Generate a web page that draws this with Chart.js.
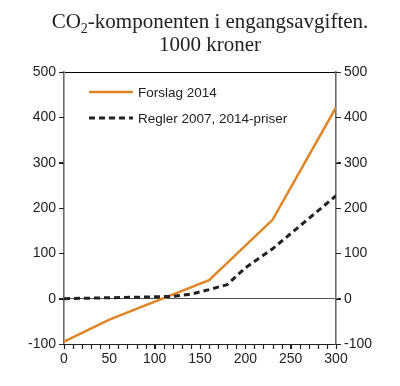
<!DOCTYPE html>
<html><head><meta charset="utf-8">
<script src="https://cdn.jsdelivr.net/npm/chart.js@4.4.0/dist/chart.umd.min.js"></script>
<style>html,body{margin:0;padding:0;background:#fff}#wrap{width:400px;height:386px}</style>
</head><body><div id="wrap"><canvas id="c" width="400" height="386"></canvas></div>
<script>
const titleParts = ['CO', '2', '-komponenten i engangsavgiften.'];
const titleLine2 = '1000 kroner';
const seriesNames = ['Forslag 2014', 'Regler 2007, 2014-priser'];
const forslagX = [0, 50, 160, 230, 300];
const forslagY = [-95, -46, 41, 174, 422];
const reglerX = [0, 50, 100, 120, 140, 160, 180, 200, 230, 300];
const reglerY = [0, 2, 4, 5, 10, 20, 31, 68, 110, 227];
const yTicks = [-100, 0, 100, 200, 300, 400, 500];
const xMinorStep = 10;

const toPts = (xs, ys) => xs.map((x, i) => ({x: x, y: ys[i]}));
const ORANGE = '#E08526', DARK = '#222222', AXIS = '#6a6a6a', TICK = '#222222';
const tickFont = {family: 'Liberation Sans, Arial, sans-serif', size: 14};

const overlay = {
  id: 'overlay',
  afterDraw(chart) {
    const ctx = chart.ctx;
    const sx = chart.scales.x, sy = chart.scales.y, sy2 = chart.scales.y2;
    const a = chart.chartArea;
    ctx.save();
    // axis tick marks
    ctx.strokeStyle = TICK;
    ctx.lineWidth = 1.2;
    ctx.beginPath();
    for (let v = sx.min; v <= sx.max; v += xMinorStep) {
      const px = Math.round(sx.getPixelForValue(v)) + 0.5;
      ctx.moveTo(px, a.bottom); ctx.lineTo(px, a.bottom + 5);
    }
    yTicks.forEach(v => {
      const py = Math.round(sy.getPixelForValue(v)) + 0.5;
      ctx.moveTo(a.left - 5, py); ctx.lineTo(a.left, py);
      const py2 = Math.round(sy2.getPixelForValue(v)) + 0.5;
      ctx.moveTo(a.right, py2); ctx.lineTo(a.right + 5, py2);
    });
    ctx.stroke();
    // title
    ctx.fillStyle = '#222';
    const big = '21px "Liberation Serif", "Times New Roman", serif';
    const small = '14px "Liberation Serif", "Times New Roman", serif';
    ctx.textBaseline = 'alphabetic';
    ctx.textAlign = 'left';
    ctx.font = big;
    const w0 = ctx.measureText(titleParts[0]).width;
    const w2 = ctx.measureText(titleParts[2]).width;
    ctx.font = small;
    const w1 = ctx.measureText(titleParts[1]).width;
    let x = 210 - (w0 + w1 + w2) / 2;
    ctx.font = big;
    ctx.fillText(titleParts[0], x, 28); x += w0;
    ctx.font = small;
    ctx.fillText(titleParts[1], x, 33); x += w1;
    ctx.font = big;
    ctx.fillText(titleParts[2], x, 28);
    ctx.textAlign = 'center';
    ctx.fillText(titleLine2, 210, 51);
    // legend
    const ds = chart.data.datasets;
    const rows = [92, 118];
    ctx.font = '13.5px "Liberation Sans", Arial, sans-serif';
    ctx.textAlign = 'left';
    ctx.textBaseline = 'middle';
    ds.forEach((d, i) => {
      ctx.beginPath();
      ctx.strokeStyle = d.borderColor;
      ctx.lineWidth = d.borderWidth;
      ctx.setLineDash(d.borderDash || []);
      ctx.moveTo(89, rows[i]);
      ctx.lineTo(133, rows[i]);
      ctx.stroke();
      ctx.setLineDash([]);
      ctx.fillStyle = '#222';
      ctx.fillText(d.label, 138, rows[i] + 1);
    });
    ctx.restore();
  }
};

new Chart(document.getElementById('c'), {
  type: 'line',
  data: {
    datasets: [
      {label: seriesNames[0], data: toPts(forslagX, forslagY), borderColor: ORANGE, borderWidth: 2.5, pointRadius: 0, tension: 0, order: 2},
      {label: seriesNames[1], data: toPts(reglerX, reglerY), borderColor: DARK, borderWidth: 3, borderDash: [6, 4], pointRadius: 0, tension: 0, order: 1}
    ]
  },
  options: {
    responsive: false,
    animation: false,
    layout: {padding: {top: 72, left: 0, right: 0, bottom: 0}},
    plugins: {legend: {display: false}, title: {display: false}, tooltip: {enabled: false}},
    scales: {
      x: {
        type: 'linear', min: 0, max: 300,
        afterBuildTicks: s => { const t = []; for (let v = 0; v <= 300; v += 50) t.push({value: v}); s.ticks = t; },
        ticks: {autoSkip: false, maxRotation: 0, font: tickFont, color: '#222', padding: 2},
        grid: {display: true, drawOnChartArea: false, drawTicks: true, tickLength: 5, color: TICK, tickColor: TICK},
        border: {color: '#222', width: 1},
        afterFit: s => { s.height = 42; }
      },
      y: {
        position: 'left', min: -100, max: 500,
        afterBuildTicks: s => { s.ticks = yTicks.map(v => ({value: v})); },
        ticks: {font: tickFont, color: '#222', padding: 3},
        grid: {drawOnChartArea: true, drawTicks: true, tickLength: 5, tickColor: TICK,
          color: c => (c.tick && c.tick.value === 0 ? '#555' : (c.tick && c.tick.value === 500 ? '#000' : 'rgba(0,0,0,0)'))},
        border: {color: AXIS, width: 1.6},
        afterFit: s => { s.width = 64; }
      },
      y2: {
        position: 'right', min: -100, max: 500,
        afterBuildTicks: s => { s.ticks = yTicks.map(v => ({value: v})); },
        ticks: {font: tickFont, color: '#222', padding: 3},
        grid: {drawOnChartArea: false, drawTicks: true, tickLength: 5, color: TICK, tickColor: TICK},
        border: {color: AXIS, width: 1.6},
        afterFit: s => { s.width = 64; }
      }
    }
  },
  plugins: [overlay]
});
</script></body></html>
